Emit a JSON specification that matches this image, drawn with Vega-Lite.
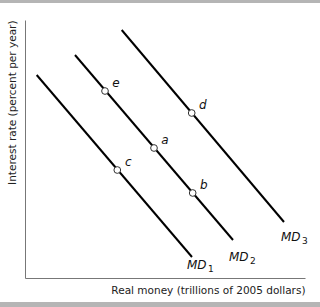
{
  "$schema": "https://vega.github.io/schema/vega-lite/v6.json",
  "width": 280,
  "height": 258,
  "padding": {"left": 25, "top": 20, "right": 15, "bottom": 29},
  "autosize": {"type": "none"},
  "background": "white",
  "config": {"view": {"stroke": null}, "font": "DejaVu Sans"},
  "datasets": {
    "curves": [
      {"curve": "MD1", "q": 4.18, "r": 78.68},
      {"curve": "MD1", "q": 59.64, "r": 8.14},
      {"curve": "MD2", "q": 17.86, "r": 86.43},
      {"curve": "MD2", "q": 74.29, "r": 14.73},
      {"curve": "MD3", "q": 34.54, "r": 96.12},
      {"curve": "MD3", "q": 92.5, "r": 21.71}
    ],
    "points": [
      {"pt": "e", "q": 28.57, "r": 72.48},
      {"pt": "a", "q": 46.07, "r": 50.39},
      {"pt": "c", "q": 32.96, "r": 41.86},
      {"pt": "d", "q": 59.54, "r": 63.95},
      {"pt": "b", "q": 59.89, "r": 32.95}
    ],
    "curveLabels": [
      {"name": "MD", "sub": "1", "q": 57.86, "r": 5.04},
      {"name": "MD", "sub": "2", "q": 72.86, "r": 8.14},
      {"name": "MD", "sub": "3", "q": 91.43, "r": 15.89}
    ],
    "bars": [
      {"x1": -8.93, "x2": 105.36, "y1": 106.59, "y2": 107.75},
      {"x1": -8.93, "x2": 105.36, "y1": -9.3, "y2": -11.24}
    ]
  },
  "layer": [
    {
      "data": {"name": "curves"},
      "mark": {"type": "line", "color": "black", "strokeWidth": 2},
      "encoding": {
        "x": {"field": "q", "type": "quantitative", "scale": {"domain": [0, 100], "clamp": false, "nice": false, "zero": false}, "axis": {"title": "Real money (trillions of 2005 dollars)", "labels": false, "ticks": false, "grid": false, "domainColor": "#777", "titleFont": "DejaVu Sans", "titleFontSize": 10.5, "titleFontWeight": "normal", "titleColor": "#222", "titleAlign": "right", "titleAnchor": null, "titleX": 280, "titleY": 12, "titleBaseline": "middle"}},
        "y": {"field": "r", "type": "quantitative", "scale": {"domain": [0, 100], "clamp": false, "nice": false, "zero": false}, "axis": {"title": "Interest rate (percent per year)", "labels": false, "ticks": false, "grid": false, "domainColor": "#777", "titleFont": "DejaVu Sans", "titleFontSize": 10.5, "titleFontWeight": "normal", "titleColor": "#222", "titleAngle": -90, "titleAlign": "right", "titleAnchor": null, "titleX": -13, "titleY": 0, "titleBaseline": "middle"}},
        "detail": {"field": "curve"}
      }
    },
    {
      "data": {"name": "bars"},
      "mark": {"type": "rect", "color": "#b5b5b5", "clip": false},
      "encoding": {
        "x": {"field": "x1", "type": "quantitative"},
        "x2": {"field": "x2"},
        "y": {"field": "y1", "type": "quantitative"},
        "y2": {"field": "y2"}
      }
    },
    {
      "data": {"name": "points"},
      "mark": {"type": "point", "shape": "circle", "filled": true, "fill": "white", "stroke": "#333", "strokeWidth": 1, "size": 45, "opacity": 1},
      "encoding": {
        "x": {"field": "q", "type": "quantitative"},
        "y": {"field": "r", "type": "quantitative"}
      }
    },
    {
      "data": {"name": "points"},
      "mark": {"type": "text", "font": "DejaVu Sans", "fontStyle": "italic", "fontSize": 12, "dx": 11, "dy": -8, "align": "center", "baseline": "middle", "color": "#111"},
      "encoding": {
        "x": {"field": "q", "type": "quantitative"},
        "y": {"field": "r", "type": "quantitative"},
        "text": {"field": "pt"}
      }
    },
    {
      "data": {"name": "curveLabels"},
      "mark": {"type": "text", "font": "DejaVu Sans", "fontStyle": "italic", "fontSize": 12, "align": "left", "baseline": "middle", "color": "#111", "clip": false},
      "encoding": {
        "x": {"field": "q", "type": "quantitative"},
        "y": {"field": "r", "type": "quantitative"},
        "text": {"field": "name"}
      }
    },
    {
      "data": {"name": "curveLabels"},
      "mark": {"type": "text", "font": "DejaVu Sans", "fontSize": 9, "align": "left", "baseline": "middle", "dx": 21, "dy": 4, "color": "#111", "clip": false},
      "encoding": {
        "x": {"field": "q", "type": "quantitative"},
        "y": {"field": "r", "type": "quantitative"},
        "text": {"field": "sub"}
      }
    }
  ]
}
